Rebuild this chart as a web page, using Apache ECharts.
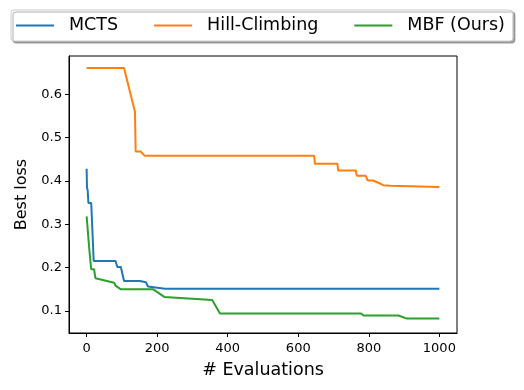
<!DOCTYPE html>
<html>
<head>
<meta charset="utf-8">
<script src="https://cdn.jsdelivr.net/npm/echarts@6/dist/echarts.min.js"></script>
<style>
  html, body { margin: 0; padding: 0; background: #fff; }
  #chart { width: 524px; height: 390px; }
</style>
</head>
<body>
<div id="chart"></div>
<script>
// values
var seriesNames = ['MCTS', 'Hill-Climbing', 'MBF (Ours)'];
var seriesColors = ['#1f77b4', '#ff7f0e', '#2ca02c'];

var mctsX = [0, 1, 3, 5, 13, 20, 82, 87, 97, 106, 151, 154, 168, 174, 222, 1000];
var mctsY = [0.428, 0.385, 0.378, 0.349, 0.349, 0.215, 0.215, 0.201, 0.201, 0.169, 0.169, 0.166, 0.166, 0.156, 0.151, 0.151];

var hillX = [0, 106, 137, 139, 153, 165, 645, 647, 711, 713, 763, 766, 791, 797, 812, 815, 835, 841, 861, 866, 1000];
var hillY = [0.661, 0.661, 0.560, 0.468, 0.468, 0.458, 0.458, 0.440, 0.440, 0.424, 0.424, 0.412, 0.412, 0.401, 0.401, 0.398, 0.393, 0.390, 0.389, 0.386, 0.386];

var mbfX = [0, 4, 8, 11, 13, 21, 25, 78, 82, 87, 96, 188, 220, 356, 378, 778, 785, 884, 908, 1000];
var mbfY = [0.318, 0.318, 0.238, 0.234, 0.196, 0.196, 0.175, 0.165, 0.158, 0.157, 0.150, 0.150, 0.132, 0.125, 0.094, 0.094, 0.089, 0.089, 0.082, 0.082];

var xTicks = [0, 200, 400, 600, 800, 1000];
var yTicks = [0.1, 0.2, 0.3, 0.4, 0.5, 0.6];

function zip(xs, ys) {
    return xs.map(function (x, i) { return [x, ys[i]]; });
}

var allData = [zip(mctsX, mctsY), zip(hillX, hillY), zip(mbfX, mbfY)];

var font = 'DejaVu Sans';

var option = {
    animation: false,
    textStyle: { fontFamily: font, color: '#000' },
    grid: {
        left: 69, right: 67, top: 56, bottom: 57,
        show: true, borderColor: '#000', borderWidth: 1,
        backgroundColor: 'transparent'
    },
    legend: {
        left: 11,
        top: 10,
        padding: [5, 8, 5, 5],
        itemGap: 36,
        itemWidth: 38,
        itemHeight: 2,
        icon: 'rect',
        backgroundColor: '#fff',
        borderColor: '#cccccc',
        borderWidth: 1,
        borderRadius: 3,
        shadowColor: 'rgba(0,0,0,0.35)',
        shadowOffsetX: 2,
        shadowOffsetY: 2,
        shadowBlur: 1,
        textStyle: {
            fontFamily: font,
            fontSize: 17.5,
            color: '#000',
            lineHeight: 21,
            padding: [0, 0, 0, 10]
        },
        data: seriesNames
    },
    xAxis: {
        type: 'value',
        min: -50,
        max: 1050,
        name: '# Evaluations',
        nameLocation: 'middle',
        nameGap: 28,
        nameTextStyle: { fontFamily: font, fontSize: 17.5, color: '#000' },
        axisLine: { onZero: false, lineStyle: { color: '#000', width: 1 } },
        axisTick: { show: true, length: 4, customValues: xTicks, lineStyle: { color: '#000' } },
        axisLabel: {
            customValues: xTicks, margin: 9, fontFamily: font, fontSize: 13, color: '#000',
            formatter: function (v) { return String(v); }
        },
        splitLine: { show: false }
    },
    yAxis: {
        type: 'value',
        min: 0.0487,
        max: 0.6887,
        name: 'Best loss',
        nameLocation: 'middle',
        nameGap: 39,
        nameRotate: 90,
        nameTextStyle: { fontFamily: font, fontSize: 16, color: '#000' },
        axisLine: { show: true, onZero: false, lineStyle: { color: '#000', width: 1 } },
        axisTick: { show: true, length: 4, customValues: yTicks, lineStyle: { color: '#000' } },
        axisLabel: {
            customValues: yTicks, margin: 7, fontFamily: font, fontSize: 13, color: '#000',
            formatter: function (v) { return v.toFixed(1); }
        },
        splitLine: { show: false }
    },
    series: seriesNames.map(function (name, i) {
        return {
            name: name,
            type: 'line',
            data: allData[i],
            symbol: 'none',
            showSymbol: false,
            color: seriesColors[i],
            lineStyle: { color: seriesColors[i], width: 2 },
            itemStyle: { color: seriesColors[i] }
        };
    })
};

var myChart = echarts.init(document.getElementById('chart'), null, { renderer: 'canvas' });
myChart.setOption(option);
</script>
</body>
</html>
